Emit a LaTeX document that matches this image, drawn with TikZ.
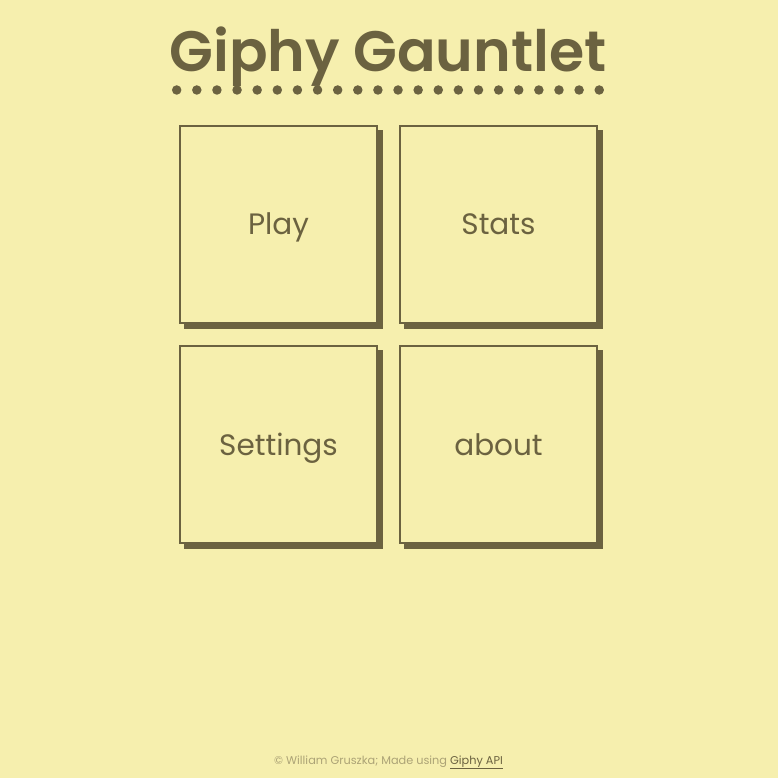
\documentclass[tikz,border=0pt]{standalone}
\usepackage{fontspec}
\setmainfont{Poppins}
\newfontfamily\titlefont{Poppins}[UprightFont=* SemiBold]
\definecolor{bg}{RGB}{246,239,174}
\definecolor{ink}{RGB}{107,98,64}
\definecolor{faint}{RGB}{172,163,118}
\begin{document}
\begin{tikzpicture}[x=1pt,y=-1pt,
  card/.style={draw=ink,line width=2pt,fill=bg,minimum width=197pt,minimum height=197pt,inner sep=0pt},
  shade/.style={fill=ink,minimum width=199pt,minimum height=199pt,inner sep=0pt},
  lbl/.style={text=ink,font=\fontsize{29.5}{31}\selectfont,anchor=base},
  dot/.style={circle,fill=ink,minimum size=9.5pt,inner sep=0pt}]
\fill[bg] (0,0) rectangle (778,778);
\useasboundingbox (0,0) rectangle (778,778);
\node[text=ink,anchor=base,font=\fontsize{57}{60}\titlefont] (title) at (388,72) {Giphy Gauntlet};
\foreach \i in {0,...,21} {\node[dot] (d\i) at (176.7+20.12*\i,90) {};}
\node[shade] (s1) at (283.5,229.5) {};
\node[shade] (s2) at (503.5,229.5) {};
\node[shade] (s3) at (283.5,449.5) {};
\node[shade] (s4) at (503.5,449.5) {};
\node[card] (c1) at (278.5,224.5) {};
\node[card] (c2) at (498.5,224.5) {};
\node[card] (c3) at (278.5,444.5) {};
\node[card] (c4) at (498.5,444.5) {};
\node[lbl] (play) at (278.5,234) {Play};
\node[lbl] (stats) at (498.5,234) {Stats};
\node[lbl] (settings) at (278.5,455) {Settings};
\node[lbl] (about) at (498.5,455) {about};
\node[anchor=base,font=\fontsize{11.3}{13}\selectfont,inner sep=0pt] (foot) at (388.5,764) {\textcolor{faint}{© William Gruszka; Made using }\textcolor{ink}{\underline{Giphy API}}};
\end{tikzpicture}
\end{document}
